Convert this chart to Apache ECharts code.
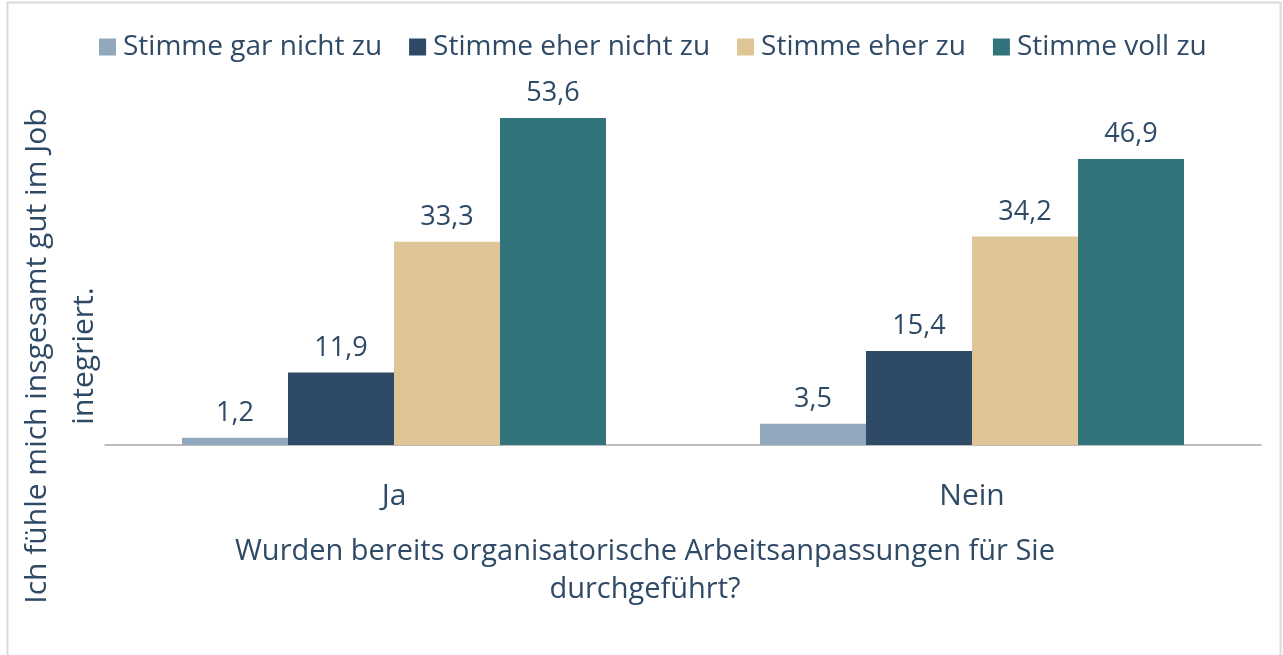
<!DOCTYPE html>
<html>
<head>
<meta charset="utf-8">
<style>
  html, body { margin: 0; padding: 0; background: #ffffff; }
  #chart { width: 1283px; height: 655px; }
</style>
<script src="https://cdn.jsdelivr.net/npm/echarts@6/dist/echarts.min.js"></script>
</head>
<body>
<div id="chart"></div>
<script>
// Answer groups on the x axis
const categories = ['Ja', 'Nein'];

// Agreement levels (legend order)
const seriesNames = ['Stimme gar nicht zu', 'Stimme eher nicht zu', 'Stimme eher zu', 'Stimme voll zu'];

// Percentages per agreement level, one value per group
const garNichtZu = [1.2, 3.5];
const eherNichtZu = [11.9, 15.4];
const eherZu = [33.3, 34.2];
const vollZu = [53.6, 46.9];

const seriesValues = [garNichtZu, eherNichtZu, eherZu, vollZu];
const seriesColors = ['#91a7bb', '#2f4a66', '#dfc595', '#33737b'];

const textColor = '#2f4a66';
const fontFamily = '"Open Sans", "Noto Sans", sans-serif';

const chart = echarts.init(document.getElementById('chart'), null, { renderer: 'canvas' });

chart.setOption({
  animation: false,
  backgroundColor: '#ffffff',
  textStyle: { fontFamily: fontFamily, color: textColor },
  legend: {
    data: seriesNames,
    left: 94,
    top: 28,
    itemWidth: 17,
    itemHeight: 17,
    itemGap: 27,
    icon: 'rect',
    textStyle: { fontSize: 28, color: textColor, fontFamily: fontFamily, padding: [0, 0, 0, 2] }
  },
  grid: { left: 105, right: 22, top: 79, bottom: 210, containLabel: false },
  xAxis: {
    type: 'category',
    data: categories,
    axisTick: { show: false },
    axisLine: { lineStyle: { color: '#a6a6a6', width: 1.5 } },
    axisLabel: { fontSize: 30, color: textColor, margin: 36, fontFamily: fontFamily }
  },
  yAxis: {
    type: 'value',
    min: 0,
    max: 60,
    show: false,
    splitLine: { show: false }
  },
  series: seriesValues.map((vals, i) => ({
    name: seriesNames[i],
    type: 'bar',
    data: vals,
    barWidth: 106,
    barGap: '0%',
    itemStyle: { color: seriesColors[i] },
    label: {
      show: true,
      position: 'top',
      distance: 11,
      fontSize: 27,
      color: textColor,
      fontFamily: fontFamily,
      formatter: p => p.value.toFixed(1).replace('.', ',')
    }
  })),
  graphic: [
    {
      type: 'rect',
      silent: true,
      shape: { x: 7.5, y: 2.5, width: 1273, height: 700 },
      style: { fill: 'none', stroke: '#d9d9d9', lineWidth: 2 }
    },
    {
      type: 'text',
      silent: true,
      x: 61,
      y: 356,
      rotation: Math.PI / 2,
      style: {
        text: 'Ich fühle mich insgesamt gut im Job\nintegriert.',
        fill: textColor,
        font: '30px ' + fontFamily,
        align: 'center',
        verticalAlign: 'middle',
        lineHeight: 47
      }
    },
    {
      type: 'text',
      silent: true,
      x: 645,
      y: 571,
      style: {
        text: 'Wurden bereits organisatorische Arbeitsanpassungen für Sie\ndurchgeführt?',
        fill: textColor,
        font: '29px ' + fontFamily,
        align: 'center',
        verticalAlign: 'middle',
        lineHeight: 38
      }
    }
  ]
});
</script>
</body>
</html>
